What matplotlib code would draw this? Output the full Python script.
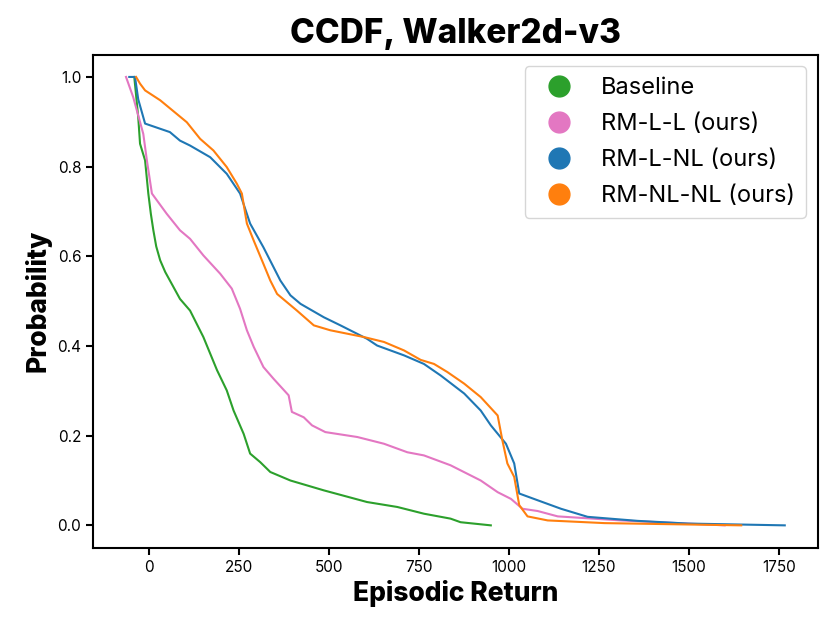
import numpy as np
import matplotlib.pyplot as plt
from matplotlib.lines import Line2D

plt.rcParams['font.family'] = ['Inter', 'DejaVu Sans']

# values (episodic return, probability)
baseline_x = [-41, -30, -25, -11, -2, 5, 12, 20, 31, 45, 58, 86, 114, 151, 189, 216, 235,
              263, 281, 309, 337, 393, 486, 606, 690, 764, 838, 866, 950]
baseline_y = [1.0, 0.910, 0.851, 0.814, 0.740, 0.695, 0.658, 0.622, 0.591, 0.565, 0.546,
              0.505, 0.479, 0.420, 0.346, 0.301, 0.256, 0.204, 0.160, 0.141, 0.119, 0.100,
              0.078, 0.052, 0.041, 0.026, 0.015, 0.007, 0.0]

rm_l_l_x = [-64, -44, -16, -6, 8, 49, 86, 114, 151, 198, 230, 253, 272, 291, 318, 346,
            388, 397, 430, 453, 490, 579, 653, 718, 764, 838, 922, 969, 1006, 1038, 1080,
            1136, 1312, 1600]
rm_l_l_y = [1.0, 0.955, 0.873, 0.814, 0.740, 0.695, 0.658, 0.639, 0.602, 0.561, 0.528,
            0.483, 0.435, 0.398, 0.353, 0.327, 0.290, 0.253, 0.241, 0.223, 0.208, 0.197,
            0.182, 0.163, 0.156, 0.134, 0.100, 0.074, 0.059, 0.037, 0.032, 0.020, 0.011, 0.0]

rm_l_nl_x = [-55, -39, -30, -11, 58, 86, 114, 170, 216, 253, 281, 318, 365, 393, 421, 486,
             532, 606, 634, 709, 764, 811, 876, 922, 950, 992, 1015, 1029, 1080, 1145,
             1219, 1358, 1498, 1767]
rm_l_nl_y = [1.0, 1.0, 0.95, 0.896, 0.877, 0.858, 0.847, 0.821, 0.784, 0.740, 0.673, 0.620,
             0.546, 0.513, 0.494, 0.464, 0.446, 0.416, 0.401, 0.379, 0.360, 0.334, 0.294,
             0.256, 0.223, 0.182, 0.138, 0.071, 0.056, 0.037, 0.019, 0.010, 0.004, 0.0]

rm_nl_nl_x = [-36, -25, -11, 31, 105, 142, 179, 216, 244, 258, 272, 291, 318, 337, 356,
              411, 458, 504, 597, 653, 709, 755, 792, 829, 876, 922, 969, 982, 996, 1015,
              1029, 1052, 1108, 1266, 1646]
rm_nl_nl_y = [1.0, 0.985, 0.970, 0.948, 0.899, 0.862, 0.836, 0.799, 0.762, 0.740, 0.673,
              0.635, 0.583, 0.546, 0.516, 0.479, 0.446, 0.435, 0.420, 0.409, 0.390, 0.369,
              0.360, 0.342, 0.316, 0.286, 0.245, 0.190, 0.138, 0.108, 0.045, 0.020, 0.011,
              0.005, 0.0]

series = [
    ('Baseline', baseline_x, baseline_y, '#2ca02c'),
    ('RM-L-L (ours)', rm_l_l_x, rm_l_l_y, '#e377c2'),
    ('RM-L-NL (ours)', rm_l_nl_x, rm_l_nl_y, '#1f77b4'),
    ('RM-NL-NL (ours)', rm_nl_nl_x, rm_nl_nl_y, '#ff7f0e'),
]

fig, ax = plt.subplots(figsize=(8.31, 6.34), dpi=100)
for name, xs, ys, col in series:
    ax.plot(xs, ys, color=col, lw=1.5)

ax.set_title('CCDF, Walker2d-v3', fontsize=24, fontweight='heavy', pad=8)
ax.set_xlabel('Episodic Return', fontsize=19, fontweight='heavy')
ax.set_ylabel('Probability', fontsize=19, fontweight='heavy')
ax.tick_params(labelsize=11, width=1.5, length=5)
for s in ax.spines.values():
    s.set_linewidth(1.5)

handles = [Line2D([], [], ls='', marker='o', ms=15, color=c) for _, _, _, c in series]
ax.legend(handles, [s[0] for s in series], loc='upper right', fontsize=17,
          handletextpad=0.8, labelspacing=0.6, borderpad=0.45)

plt.subplots_adjust(left=0.112, right=0.984, top=0.914, bottom=0.136)
plt.savefig('out.png')
